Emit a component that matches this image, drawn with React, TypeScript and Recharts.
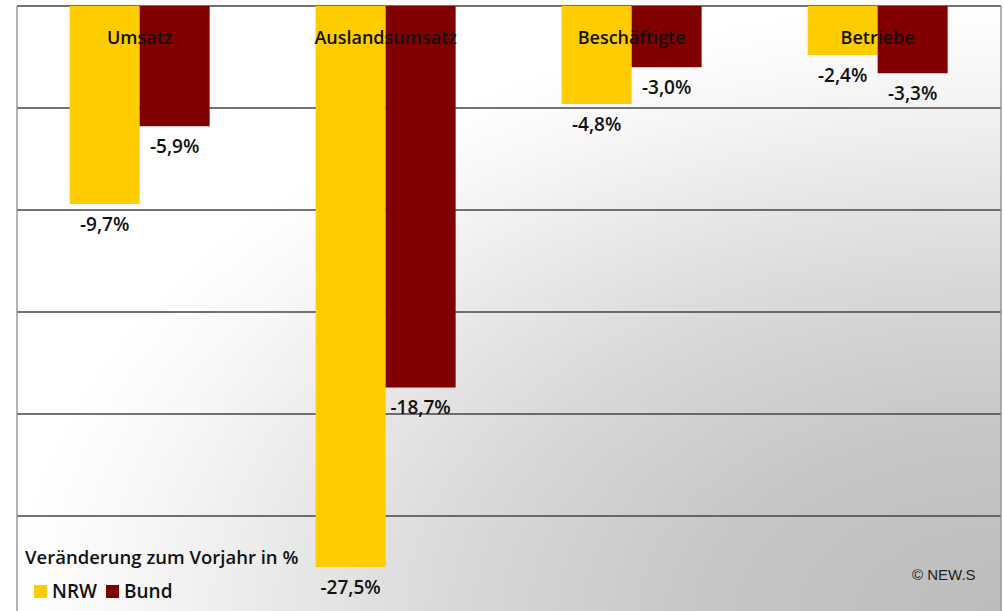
import React from 'react';
import { BarChart, Bar, XAxis, YAxis, CartesianGrid, LabelList, Legend } from 'recharts';

const categories = ['Umsatz', 'Auslandsumsatz', 'Beschäftigte', 'Betriebe'];
const nrwValues = [-9.7, -27.5, -4.8, -2.4];
const bundValues = [-5.9, -18.7, -3.0, -3.3];
const yTicks = [-30, -25, -20, -15, -10, -5, 0];
const seriesOrder = ['NRW', 'Bund'];

const data = categories.map((name, i) => ({ name, nrw: nrwValues[i], bund: bundValues[i] }));

const WIDTH = 1004;
const HEIGHT = 618;
const MARGIN = { top: 6, right: 3, bottom: 0, left: 17 };
const BAND = (WIDTH - MARGIN.left - MARGIN.right) / categories.length;

const FONT = '"Open Sans", sans-serif';

const fmt = (v: number) => v.toFixed(1).replace('.', ',') + '%';

// value label under the end of each (negative) bar
const ValueLabel = (props: any) => {
  const { x, y, width, height, value } = props;
  const end = Math.max(y, y + height);
  return (
    <text x={x + width / 2} y={end + 27} textAnchor="middle" fontFamily={FONT} fontWeight={600} fontSize={19} fill="#111">
      {fmt(value)}
    </text>
  );
};

// category name, drawn on the Bund bar so it sits over both bars
const CategoryLabel = (props: any) => {
  const { x, y, height, value } = props;
  const top = Math.min(y, y + height);
  return (
    <text x={x} y={top + 38} textAnchor="middle" fontFamily={FONT} fontWeight={600} fontSize={18} fill="#111">
      {value}
    </text>
  );
};

// small tick at the left boundary of each category, pointing down
const BoundaryTick = (props: any) => {
  const { payload } = props;
  const idx = payload?.index ?? props.index ?? 0;
  if (idx === 0) return null;
  const bx = payload.coordinate - BAND / 2;
  return <line x1={bx} x2={bx} y1={MARGIN.top} y2={MARGIN.top + 6} stroke="#000" strokeWidth={1} />;
};

const LegendContent = (props: any) => {
  const items = [...(props.payload || [])].sort(
    (a: any, b: any) => seriesOrder.indexOf(a.value) - seriesOrder.indexOf(b.value)
  );
  return (
    <div style={{ fontFamily: FONT, color: '#111', textAlign: 'left' }}>
      <div style={{ fontSize: 18.5, fontWeight: 600, whiteSpace: 'nowrap' }}>Veränderung zum Vorjahr in %</div>
      <div style={{ display: 'flex', alignItems: 'center', marginTop: 9, paddingLeft: 9 }}>
        {items.map((p: any) => (
          <span key={p.value} style={{ display: 'flex', alignItems: 'center', marginRight: 9, fontSize: 19, fontWeight: 600 }}>
            <span style={{ display: 'inline-block', width: 13, height: 13, background: p.color, marginRight: 5 }} />
            {p.value}
          </span>
        ))}
      </div>
    </div>
  );
};

export default function App() {
  return (
    <div style={{ position: 'absolute', left: 0, top: 0, width: WIDTH, height: 611, overflow: 'hidden', background: '#fff' }}>
      <BarChart width={WIDTH} height={HEIGHT} data={data} margin={MARGIN} barCategoryGap="21.4%" barGap={0}>
        <defs>
          <radialGradient id="bg" cx="1" cy="1" r="1" gradientUnits="objectBoundingBox">
            <stop offset="0" stopColor="#bcbcbc" />
            <stop offset="0.3" stopColor="#c6c6c6" />
            <stop offset="0.55" stopColor="#d8d8d8" />
            <stop offset="0.75" stopColor="#eaeaea" />
            <stop offset="0.9" stopColor="#f8f8f8" />
            <stop offset="1" stopColor="#ffffff" />
          </radialGradient>
        </defs>
        <CartesianGrid vertical={false} stroke="#444" strokeWidth={1.3} fill="url(#bg)" fillOpacity={1} />
        <CartesianGrid
          horizontal={false}
          stroke="#8a8a8a"
          strokeWidth={1.3}
          verticalCoordinatesGenerator={({ offset }: any) => [offset.left, offset.left + offset.width]}
        />
        <YAxis domain={[-30, 0]} ticks={yTicks} hide />
        <Bar dataKey="nrw" name="NRW" fill="#FFCC00" isAnimationActive={false}>
          <LabelList dataKey="nrw" content={ValueLabel} />
        </Bar>
        <Bar dataKey="bund" name="Bund" fill="#800000" isAnimationActive={false}>
          <LabelList dataKey="bund" content={ValueLabel} />
          <LabelList dataKey="name" content={CategoryLabel} />
        </Bar>
        <XAxis dataKey="name" orientation="top" mirror height={0} interval={0} tickLine={false} tick={BoundaryTick} axisLine={{ stroke: '#000', strokeWidth: 1.5 }} />
        <Legend
          layout="horizontal"
          verticalAlign="middle"
          align="center"
          content={LegendContent}
          wrapperStyle={{ left: 25, top: 544, width: 'auto' }}
        />
      </BarChart>
      <div style={{ position: 'absolute', left: 912, top: 566, fontFamily: '"Liberation Sans", Arial, sans-serif', fontSize: 15, color: '#222', whiteSpace: 'nowrap' }}>
        © NEW.S
      </div>
    </div>
  );
}
